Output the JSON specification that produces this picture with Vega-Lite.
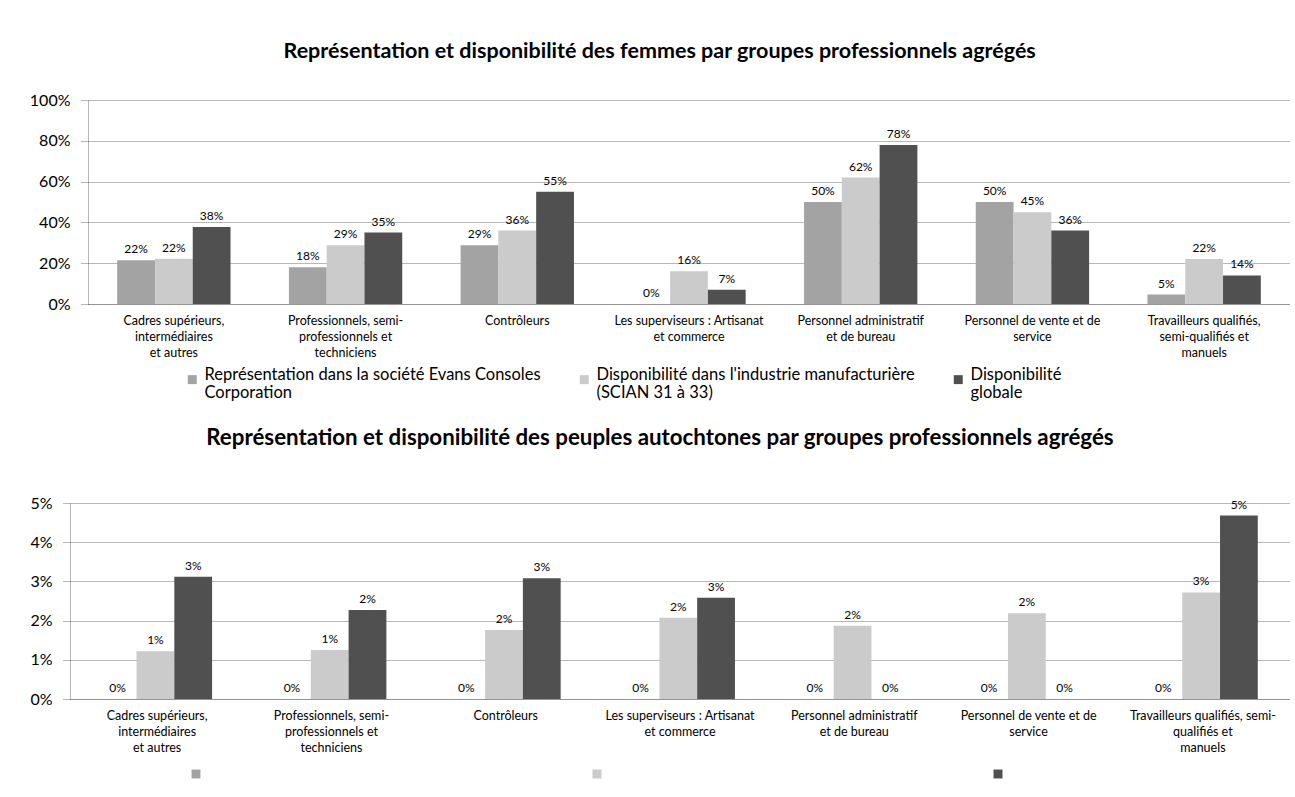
{
  "$schema": "https://vega.github.io/schema/vega-lite/v6.json",
  "padding": {"top": 40, "left": 29, "right": 5, "bottom": 5},
  "background": "white",
  "spacing": 24,
  "columns": 1,
  "align": "none",
  "resolve": {"scale": {"color": "independent", "x": "independent", "y": "independent"}, "legend": {"color": "independent"}},
  "config": {
    "font": "Lato",
    "view": {"stroke": null},
    "axis": {"labelFont": "Lato", "labelColor": "#000", "gridColor": "#707070", "gridDash": [1, 1], "domainColor": "#707070", "domainDash": [1, 1], "tickColor": "#707070", "tickDash": [1, 1]},
    "legend": {"labelFont": "Lato", "labelColor": "#000"},
    "title": {"font": "Lato", "fontWeight": "bold", "fontSize": 21.5, "anchor": "middle", "frame": "bounds", "color": "#000"}
  },
  "datasets": {
    "femmes": [
      {"groupe": "Cadres supérieurs, intermédiaires et autres", "serie": "Représentation dans la société Evans Consoles Corporation", "valeur": 0.215},
      {"groupe": "Cadres supérieurs, intermédiaires et autres", "serie": "Disponibilité dans l'industrie manufacturière (SCIAN 31 à 33)", "valeur": 0.222},
      {"groupe": "Cadres supérieurs, intermédiaires et autres", "serie": "Disponibilité globale", "valeur": 0.378},
      {"groupe": "Professionnels, semi-professionnels et techniciens", "serie": "Représentation dans la société Evans Consoles Corporation", "valeur": 0.18},
      {"groupe": "Professionnels, semi-professionnels et techniciens", "serie": "Disponibilité dans l'industrie manufacturière (SCIAN 31 à 33)", "valeur": 0.288},
      {"groupe": "Professionnels, semi-professionnels et techniciens", "serie": "Disponibilité globale", "valeur": 0.35},
      {"groupe": "Contrôleurs", "serie": "Représentation dans la société Evans Consoles Corporation", "valeur": 0.288},
      {"groupe": "Contrôleurs", "serie": "Disponibilité dans l'industrie manufacturière (SCIAN 31 à 33)", "valeur": 0.36},
      {"groupe": "Contrôleurs", "serie": "Disponibilité globale", "valeur": 0.55},
      {"groupe": "Les superviseurs : Artisanat et commerce", "serie": "Représentation dans la société Evans Consoles Corporation", "valeur": 0},
      {"groupe": "Les superviseurs : Artisanat et commerce", "serie": "Disponibilité dans l'industrie manufacturière (SCIAN 31 à 33)", "valeur": 0.16},
      {"groupe": "Les superviseurs : Artisanat et commerce", "serie": "Disponibilité globale", "valeur": 0.07},
      {"groupe": "Personnel administratif et de bureau", "serie": "Représentation dans la société Evans Consoles Corporation", "valeur": 0.5},
      {"groupe": "Personnel administratif et de bureau", "serie": "Disponibilité dans l'industrie manufacturière (SCIAN 31 à 33)", "valeur": 0.62},
      {"groupe": "Personnel administratif et de bureau", "serie": "Disponibilité globale", "valeur": 0.78},
      {"groupe": "Personnel de vente et de service", "serie": "Représentation dans la société Evans Consoles Corporation", "valeur": 0.5},
      {"groupe": "Personnel de vente et de service", "serie": "Disponibilité dans l'industrie manufacturière (SCIAN 31 à 33)", "valeur": 0.45},
      {"groupe": "Personnel de vente et de service", "serie": "Disponibilité globale", "valeur": 0.36},
      {"groupe": "Travailleurs qualifiés, semi-qualifiés et manuels", "serie": "Représentation dans la société Evans Consoles Corporation", "valeur": 0.046},
      {"groupe": "Travailleurs qualifiés, semi-qualifiés et manuels", "serie": "Disponibilité dans l'industrie manufacturière (SCIAN 31 à 33)", "valeur": 0.22},
      {"groupe": "Travailleurs qualifiés, semi-qualifiés et manuels", "serie": "Disponibilité globale", "valeur": 0.14}
    ],
    "autochtones": [
      {"groupe": "Cadres supérieurs, intermédiaires et autres", "serie": "Représentation dans la société Evans Consoles Corporation", "valeur": 0},
      {"groupe": "Cadres supérieurs, intermédiaires et autres", "serie": "Disponibilité dans l'industrie manufacturière (SCIAN 31 à 33)", "valeur": 0.0122},
      {"groupe": "Cadres supérieurs, intermédiaires et autres", "serie": "Disponibilité globale", "valeur": 0.0312},
      {"groupe": "Professionnels, semi-professionnels et techniciens", "serie": "Représentation dans la société Evans Consoles Corporation", "valeur": 0},
      {"groupe": "Professionnels, semi-professionnels et techniciens", "serie": "Disponibilité dans l'industrie manufacturière (SCIAN 31 à 33)", "valeur": 0.0125},
      {"groupe": "Professionnels, semi-professionnels et techniciens", "serie": "Disponibilité globale", "valeur": 0.0227},
      {"groupe": "Contrôleurs", "serie": "Représentation dans la société Evans Consoles Corporation", "valeur": 0},
      {"groupe": "Contrôleurs", "serie": "Disponibilité dans l'industrie manufacturière (SCIAN 31 à 33)", "valeur": 0.0176},
      {"groupe": "Contrôleurs", "serie": "Disponibilité globale", "valeur": 0.0308},
      {"groupe": "Les superviseurs : Artisanat et commerce", "serie": "Représentation dans la société Evans Consoles Corporation", "valeur": 0},
      {"groupe": "Les superviseurs : Artisanat et commerce", "serie": "Disponibilité dans l'industrie manufacturière (SCIAN 31 à 33)", "valeur": 0.0207},
      {"groupe": "Les superviseurs : Artisanat et commerce", "serie": "Disponibilité globale", "valeur": 0.0258},
      {"groupe": "Personnel administratif et de bureau", "serie": "Représentation dans la société Evans Consoles Corporation", "valeur": 0},
      {"groupe": "Personnel administratif et de bureau", "serie": "Disponibilité dans l'industrie manufacturière (SCIAN 31 à 33)", "valeur": 0.0187},
      {"groupe": "Personnel administratif et de bureau", "serie": "Disponibilité globale", "valeur": 0},
      {"groupe": "Personnel de vente et de service", "serie": "Représentation dans la société Evans Consoles Corporation", "valeur": 0},
      {"groupe": "Personnel de vente et de service", "serie": "Disponibilité dans l'industrie manufacturière (SCIAN 31 à 33)", "valeur": 0.0219},
      {"groupe": "Personnel de vente et de service", "serie": "Disponibilité globale", "valeur": 0},
      {"groupe": "Travailleurs qualifiés, semi-qualifiés et manuels", "serie": "Représentation dans la société Evans Consoles Corporation", "valeur": 0},
      {"groupe": "Travailleurs qualifiés, semi-qualifiés et manuels", "serie": "Disponibilité dans l'industrie manufacturière (SCIAN 31 à 33)", "valeur": 0.0272},
      {"groupe": "Travailleurs qualifiés, semi-qualifiés et manuels", "serie": "Disponibilité globale", "valeur": 0.0468}
    ]
  },
  "concat": [
    {
      "title": {"text": "Représentation et disponibilité des femmes par groupes professionnels agrégés", "offset": 30},
      "width": 1220,
      "height": 204,
      "data": {"name": "femmes"},
      "encoding": {
        "x": {"field": "groupe", "type": "nominal", "sort": null,
          "scale": {"paddingInner": 0.34, "paddingOuter": 0.17, "range": [18, 1220]},
          "axis": {"title": null, "labelAngle": 0, "labelFontSize": 12.5, "labelLineHeight": 16, "labelPadding": 10, "ticks": false, "labelBaseline": "top",
            "labelExpr": "datum.label == 'Cadres supérieurs, intermédiaires et autres' ? ['Cadres supérieurs,', 'intermédiaires', 'et autres'] : datum.label == 'Professionnels, semi-professionnels et techniciens' ? ['Professionnels, semi-', 'professionnels et', 'techniciens'] : datum.label == 'Les superviseurs : Artisanat et commerce' ? ['Les superviseurs : Artisanat', 'et commerce'] : datum.label == 'Personnel administratif et de bureau' ? ['Personnel administratif', 'et de bureau'] : datum.label == 'Personnel de vente et de service' ? ['Personnel de vente et de', 'service'] : datum.label == 'Travailleurs qualifiés, semi-qualifiés et manuels' ? ['Travailleurs qualifiés,', 'semi-qualifiés et', 'manuels'] : datum.label"}},
        "xOffset": {"field": "serie", "type": "nominal", "sort": null, "scale": {"paddingInner": 0, "paddingOuter": 0}},
        "y": {"field": "valeur", "type": "quantitative", "scale": {"domain": [0, 1]},
          "axis": {"title": null, "format": ".0%", "values": [0, 0.2, 0.4, 0.6, 0.8, 1], "labelFontSize": 16, "grid": true, "tickSize": 8, "labelPadding": 10, "offset": -18}}
      },
      "layer": [
        {
          "mark": {"type": "bar"},
          "encoding": {
            "color": {"field": "serie", "type": "nominal", "sort": null,
              "scale": {"domain": ["Représentation dans la société Evans Consoles Corporation", "Disponibilité dans l'industrie manufacturière (SCIAN 31 à 33)", "Disponibilité globale"], "range": ["#a3a3a3", "#cbcbcb", "#505050"]},
              "legend": {"orient": "none", "legendX": 114, "legendY": 271, "direction": "horizontal", "title": null, "labelFontSize": 16.5, "labelLineHeight": 22, "symbolType": "square", "symbolSize": 80, "symbolStrokeWidth": 0, "columnPadding": 35, "labelLimit": 500, "labelBaseline": "alphabetic",
                "labelExpr": "datum.label == 'Représentation dans la société Evans Consoles Corporation' ? ['Représentation dans la société Evans Consoles', 'Corporation'] : datum.label == 'Disponibilité globale' ? ['Disponibilité', 'globale'] : ['Disponibilité dans l\\'industrie manufacturière', '(SCIAN 31 à 33)']"}}
          }
        },
        {
          "mark": {"type": "text", "dy": -11, "fontSize": 12, "color": "#000"},
          "encoding": {"text": {"field": "valeur", "type": "quantitative", "format": ".0%"}}
        }
      ]
    },
    {
      "title": {"text": "Représentation et disponibilité des peuples autochtones par groupes professionnels agrégés", "offset": 46, "fontSize": 22.3},
      "width": 1220,
      "height": 196,
      "data": {"name": "autochtones"},
      "encoding": {
        "x": {"field": "groupe", "type": "nominal", "sort": null,
          "scale": {"paddingInner": 0.33, "paddingOuter": 0.165},
          "axis": {"title": null, "labelAngle": 0, "labelFontSize": 12.5, "labelLineHeight": 16, "labelPadding": 10, "ticks": false, "labelBaseline": "top",
            "labelExpr": "datum.label == 'Cadres supérieurs, intermédiaires et autres' ? ['Cadres supérieurs,', 'intermédiaires', 'et autres'] : datum.label == 'Professionnels, semi-professionnels et techniciens' ? ['Professionnels, semi-', 'professionnels et', 'techniciens'] : datum.label == 'Les superviseurs : Artisanat et commerce' ? ['Les superviseurs : Artisanat', 'et commerce'] : datum.label == 'Personnel administratif et de bureau' ? ['Personnel administratif', 'et de bureau'] : datum.label == 'Personnel de vente et de service' ? ['Personnel de vente et de', 'service'] : datum.label == 'Travailleurs qualifiés, semi-qualifiés et manuels' ? ['Travailleurs qualifiés, semi-', 'qualifiés et', 'manuels'] : datum.label"}},
        "xOffset": {"field": "serie", "type": "nominal", "sort": null, "scale": {"paddingInner": 0, "paddingOuter": 0}},
        "y": {"field": "valeur", "type": "quantitative", "scale": {"domain": [0, 0.05]},
          "axis": {"title": null, "format": ".0%", "values": [0, 0.01, 0.02, 0.03, 0.04, 0.05], "labelFontSize": 16, "grid": true, "tickSize": 8, "labelPadding": 10}}
      },
      "layer": [
        {
          "mark": {"type": "bar"},
          "encoding": {
            "color": {"field": "serie", "type": "nominal", "sort": null,
              "scale": {"domain": ["Représentation dans la société Evans Consoles Corporation", "Disponibilité dans l'industrie manufacturière (SCIAN 31 à 33)", "Disponibilité globale"], "range": ["#a3a3a3", "#cbcbcb", "#505050"]},
              "legend": {"orient": "none", "legendX": 118, "legendY": 263, "direction": "horizontal", "title": null, "labelFontSize": 16, "symbolType": "square", "symbolSize": 80, "symbolStrokeWidth": 0, "columnPadding": 381, "labelExpr": "''"}}
          }
        },
        {
          "mark": {"type": "text", "dy": -11, "fontSize": 12, "color": "#000"},
          "encoding": {"text": {"field": "valeur", "type": "quantitative", "format": ".0%"}}
        }
      ]
    }
  ]
}
